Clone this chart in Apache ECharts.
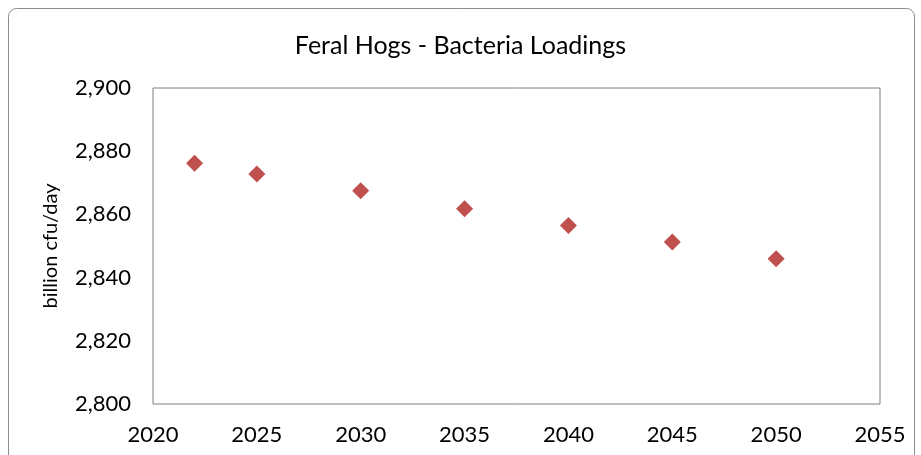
<!DOCTYPE html>
<html>
<head>
<meta charset="utf-8">
<script src="https://cdn.jsdelivr.net/npm/echarts@6/dist/echarts.min.js"></script>
<style>
  html, body { margin: 0; padding: 0; background: #fff; }
  #chart { width: 921px; height: 455px; }
</style>
</head>
<body>
<div id="chart"></div>
<script>
const years = [2022, 2025, 2030, 2035, 2040, 2045, 2050];
const loadings = [2876.2, 2872.8, 2867.5, 2861.8, 2856.5, 2851.3, 2846.0];

const font = "Lato, 'Open Sans', sans-serif";

const chart = echarts.init(document.getElementById("chart"));

chart.setOption({
    textStyle: { fontFamily: font },
    title: {
        text: "Feral Hogs - Bacteria Loadings",
        left: "center",
        top: 28,
        textStyle: { fontFamily: font, fontSize: 25, fontWeight: "normal", color: "#000" },
    },
    graphic: [{
        type: "rect",
        shape: { x: 8.5, y: 8.5, width: 906, height: 470, r: 8 },
        style: { fill: "none", stroke: "#8c8c8c", lineWidth: 1 },
        silent: true,
    }],
    grid: {
        left: 153,
        right: 41,
        top: 88,
        bottom: 51,
        show: true,
        borderColor: "#7f7f7f",
        borderWidth: 1,
    },
    xAxis: {
        type: "value",
        min: 2020,
        max: 2055,
        interval: 5,
        axisLine: { show: false },
        axisTick: { show: false },
        splitLine: { show: false },
        axisLabel: { fontSize: 22, color: "#000", margin: 20, formatter: v => String(v) },
    },
    yAxis: {
        type: "value",
        min: 2800,
        max: 2900,
        interval: 20,
        name: "billion cfu/day",
        nameLocation: "middle",
        nameGap: 92,
        nameTextStyle: { fontSize: 20, color: "#000" },
        axisLine: { show: false },
        axisTick: { show: false },
        splitLine: { show: false },
        axisLabel: {
            fontSize: 22,
            color: "#000",
            margin: 22,
            formatter: v => v.toLocaleString("en-US"),
        },
    },
    series: [{
        type: "scatter",
        data: years.map((y, i) => [y, loadings[i]]),
        symbol: "diamond",
        symbolSize: [17, 17],
        itemStyle: { color: "#c0504d", opacity: 1 },
    }],
});
</script>
</body>
</html>
